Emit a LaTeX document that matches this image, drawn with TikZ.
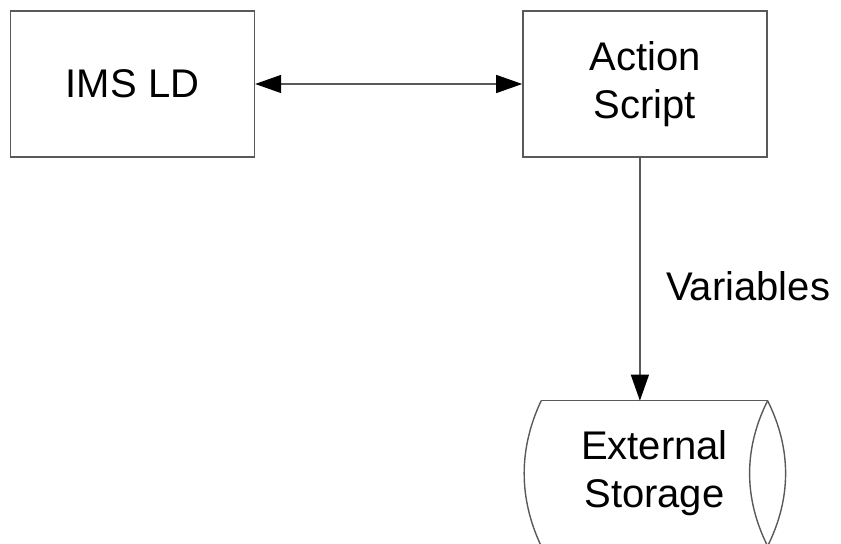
\documentclass[tikz,border=0pt]{standalone}
\usepackage{fontspec}
\setmainfont{Liberation Sans}
\usepackage{tikz}
\usetikzlibrary{arrows.meta,positioning}
\tikzstyle{line} = [draw, black!65, line width=0.7pt]
\tikzstyle{arr} = [line, {Triangle[length=13pt,width=9pt,black]}-{Triangle[length=13pt,width=9pt,black]}]
\tikzstyle{darr} = [line, -{Triangle[length=13pt,width=9pt,black]}]
\tikzstyle{box} = [line, rectangle, minimum width=122pt, minimum height=73pt, align=center, font=\fontsize{20pt}{24pt}\selectfont, text=black]

\begin{document}
\begin{tikzpicture}[x=0.5pt,y=-0.5pt]
			\useasboundingbox (0,0) rectangle (841,544); % frame
			
			\node[box] (ims) at (132.5,84) {IMS LD}; % left box
			\node[box, right=133.5pt of ims] (act) {Action\\Script}; % right box
			\node[box, draw=none, minimum width=112.5pt, minimum height=72pt, below=121.5pt of act, xshift=4.75pt] (store) {External\\Storage}; % storage
			
			% storage outline
			\draw[line] (store.north west) -- (store.north east);
			\draw[line] (store.north west) .. controls +(-11.35pt,-24pt) and +(-11.35pt,24pt) .. (store.south west);
			\draw[line] (store.north east) .. controls +(12pt,-24pt) and +(12pt,24pt) .. (store.south east);
			\draw[line] (store.north east) .. controls +(-12pt,-24pt) and +(-12pt,24pt) .. (store.south east);
			
			\draw[arr] (ims) -- (act); % two way
			\draw[darr] ([xshift=-2.5pt]act.south) -- ([xshift=-2.5pt]act.south |- store.north) node[pos=0.53, right=9.5pt, text=black, font=\fontsize{20pt}{24pt}\selectfont] (var) {Variables}; % down
\end{tikzpicture}
\end{document}
